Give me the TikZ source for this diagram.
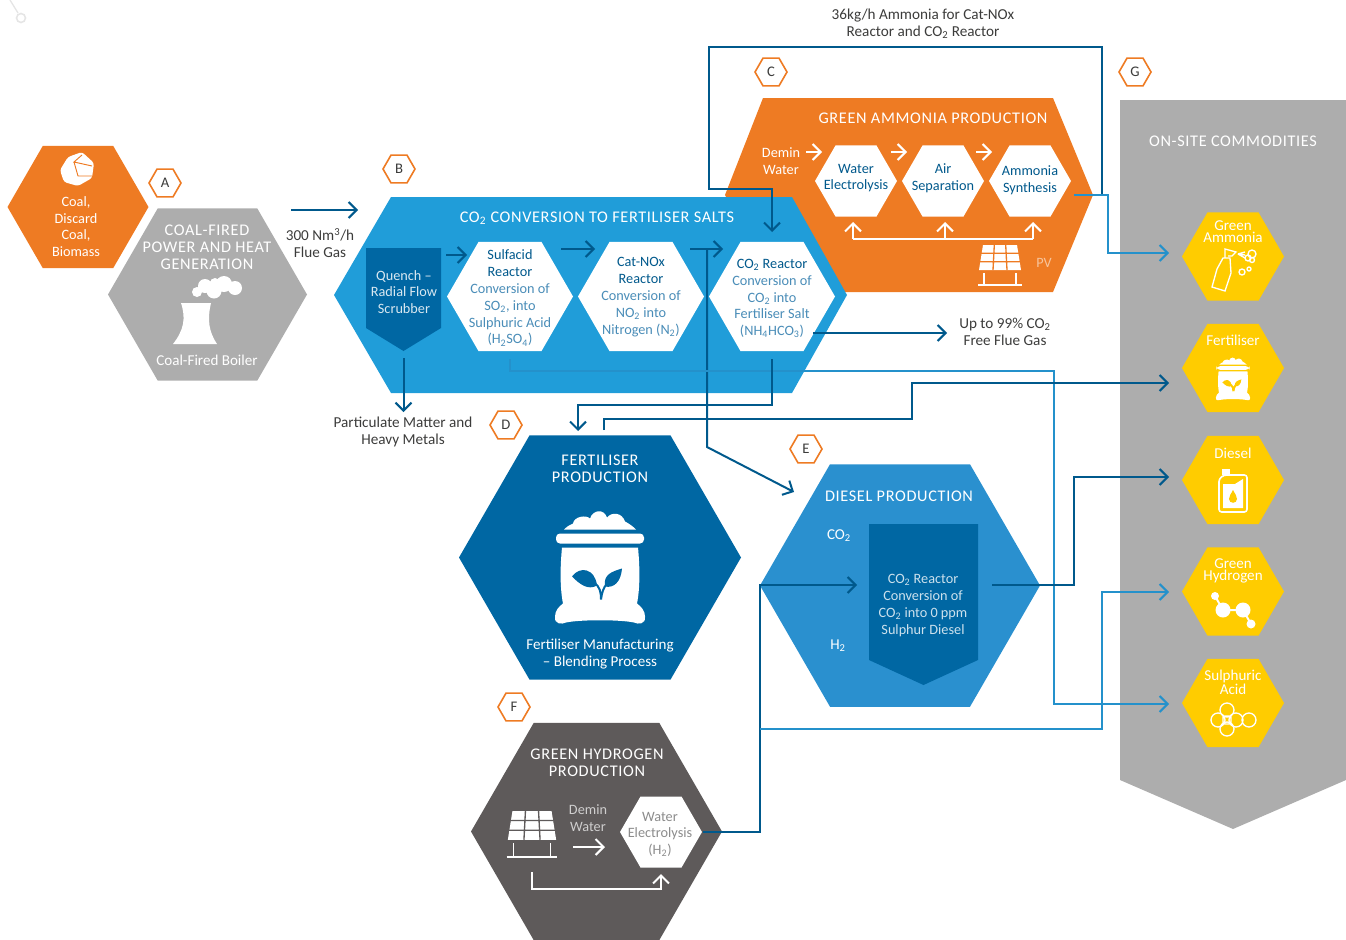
\documentclass[tikz,border=0pt]{standalone}
\usepackage{fontspec}
\setmainfont{Carlito}
\newfontfamily\capsfont[LetterSpace=4]{Carlito}
\usepackage{tikz}
\usetikzlibrary{arrows.meta,shapes.geometric}
\definecolor{orangehex}{HTML}{EE7B23}
\definecolor{greyhex}{HTML}{ADADAD}
\definecolor{bluehex}{HTML}{209DD9}
\definecolor{midhex}{HTML}{2A90CF}
\definecolor{deephex}{HTML}{0067A3}
\definecolor{slatehex}{HTML}{5E5A5A}
\definecolor{yellowhex}{HTML}{FFCC00}
\definecolor{pipedark}{HTML}{00598C}
\definecolor{pipelight}{HTML}{2491CB}
\definecolor{inktext}{HTML}{3C3C3B}
\definecolor{softblue}{HTML}{4A8DB8}
\definecolor{softgrey}{HTML}{8C8C8C}
\tikzset{
  hexa/.style={regular polygon,regular polygon sides=6,inner sep=0pt,outer sep=0pt,minimum size=#1*0.75pt},
  tag/.style={hexa=32,draw=orangehex,fill=white,line width=1.2pt,text=inktext,font=\fontsize{11}{13}\selectfont},
  txt/.style={align=center,inner sep=0pt,font=\fontsize{10.7}{12.6}\selectfont},
  big/.style={txt,font=\fontsize{11.3}{12.75}\selectfont},
  ink/.style={txt,text=inktext,font=\fontsize{11.4}{12.75}\selectfont},
  head/.style={txt,text=white,font=\capsfont\fontsize{12.2}{12.9}\selectfont},
  tiny/.style={txt,text=white,font=\fontsize{11.3}{9}\selectfont},
  pipe/.style={draw=pipedark,line width=1.5pt,-{Straight Barb[length=6pt,width=12pt]}},
  pipeb/.style={draw=pipelight,line width=1.5pt,-{Straight Barb[length=6pt,width=12pt]}},
  wpipe/.style={draw=white,line width=1.5pt,-{Straight Barb[length=6pt,width=12pt]}},
  icon/.style={draw=white,line width=1pt},
  pics/solar/.style={code={
    \fill[white] (-17,0) -- (17,0) -- (21,25) -- (-21,25) -- cycle;
    \draw[#1,line width=1pt] (-5.7,0) -- (-7,25) (5.7,0) -- (7,25) (-19,8.3) -- (19,8.3) (-20,16.7) -- (20,16.7);
    \draw[white,line width=0.9pt] (-16,28) -- (-16,40) (16,28) -- (16,40) (-22,40) -- (22,40);
  }},
  pics/sack/.style={code={
    \fill[white] (-36,-9) .. controls (-32,-13) and (-29,-14) .. (-27,-15) .. controls (-26,-22) and (-14,-24) .. (-10,-20) .. controls (-7,-29) and (4,-30) .. (7,-21) .. controls (12,-27) and (22,-26) .. (25,-17) .. controls (29,-15) and (33,-12) .. (36,-9) -- cycle;
    \fill[white,rounded corners=3pt] (-44,-5) rectangle (44,5);
    \fill[white] (-38,9) -- (38,9) .. controls (40,30) and (40,50) .. (37,65) .. controls (41,68) and (45,72) .. (45,78) .. controls (46,86) and (38,86) .. (34,84) .. controls (20,81) and (-20,81) .. (-34,84) .. controls (-38,86) and (-46,86) .. (-45,78) .. controls (-45,72) and (-41,68) .. (-37,65) .. controls (-40,50) and (-40,30) .. (-38,9) -- cycle;
    \fill[#1] (-28,38) .. controls (-20,27) and (-5,30) .. (-3,47) .. controls (-12,52) and (-20,46) .. (-28,38) -- cycle;
    \fill[#1] (22,30) .. controls (21,43) and (14,50) .. (5,48) .. controls (3,36) and (12,33) .. (22,30) -- cycle;
    \draw[#1,line width=1.5pt] (-6,44) .. controls (0,48) and (1,54) .. (1,61) (7,45) .. controls (3,50) and (2,54) .. (1,61);
  }}
}
\begin{document}
\begin{tikzpicture}[x=0.75pt,y=-0.75pt]
\useasboundingbox (0,0) rectangle (1346,939);
\draw[black!10,line width=1pt] (10,0) -- (18,13);
\draw[black!10,line width=1.2pt] (21,18) circle (4.5);

\fill[greyhex] (1120,100) -- (1346,100) -- (1346,780) -- (1233,829) -- (1120,780) -- cycle;
\fill[orangehex] (763,98) -- (1053,98) -- (1093,195) -- (1053,292) -- (780,292) -- (725,195) -- cycle;
\fill[bluehex] (391,197) -- (792,197) -- (847,295) -- (792,393) -- (391,393) -- (334,295) -- cycle;
\fill[deephex] (366,248) -- (441,248) -- (441,328) -- (403.5,351) -- (366,328) -- cycle;

\node[hexa=141,fill=orangehex] (coal) at (78,207) {};
\node[hexa=199,fill=greyhex] (boiler) at (207.5,294.5) {};
\node[hexa=126,fill=white] (sulfacid) at (510,296.5) {};
\node[hexa=126,fill=white] (catnox) at (641,296.5) {};
\node[hexa=126,fill=white] (co2reac) at (772,296.5) {};
\node[hexa=82,fill=white] (electro) at (856,181) {};
\node[hexa=82,fill=white] (airsep) at (943,181) {};
\node[hexa=82,fill=white] (synth) at (1030,181) {};
\node[hexa=282,fill=deephex] (fert) at (600,557.5) {};
\node[hexa=280,fill=midhex] (diesel) at (900,585.5) {};
\fill[deephex] (869,524) -- (978,524) -- (978,660) -- (923.5,685) -- (869,660) -- cycle;
\node[hexa=251,fill=slatehex] (hydro) at (596.5,831.5) {};
\node[hexa=82,fill=white] (h2cell) at (661,832) {};
\node[hexa=102,fill=yellowhex] (y1) at (1233,256.5) {};
\node[hexa=102,fill=yellowhex] (y2) at (1233,368) {};
\node[hexa=102,fill=yellowhex] (y3) at (1233,480) {};
\node[hexa=102,fill=yellowhex] (y4) at (1233,591.5) {};
\node[hexa=102,fill=yellowhex] (y5) at (1233,703) {};

\node[tag] (A) at (165,183) {A};
\node[tag] (B) at (399,169) {B};
\node[tag] (C) at (771,72) {C};
\node[tag] (D) at (506,425) {D};
\node[tag] (E) at (806,449) {E};
\node[tag] (F) at (514,707) {F};
\node[tag] (G) at (1135,72) {G};

\coordinate (flue1) at (291,210);
\coordinate (flue2) at (358,210);
\coordinate (pm1) at (403.5,358);
\coordinate (pm2) at (403.5,412);
\coordinate (q1) at (446,255);
\coordinate (q2) at (467,255);
\coordinate (s1) at (561,249);
\coordinate (s2) at (595,249);
\coordinate (n1) at (690,249);
\coordinate (n2) at (723,249);
\coordinate (n3) at (707,249);
\coordinate (n4) at (707,447);
\coordinate (n5) at (794,492);
\coordinate (am1) at (1074,195);
\coordinate (am2) at (1101.5,195);
\coordinate (am3) at (709,47);
\coordinate (am4) at (772,189);
\coordinate (am5) at (772,232);
\coordinate (am6) at (1108,195);
\coordinate (am7) at (1169,253);
\coordinate (ff1) at (813,333);
\coordinate (ff2) at (947,333);
\coordinate (sa1) at (510,359);
\coordinate (sa2) at (1054,371);
\coordinate (sa3) at (1169,704);
\coordinate (cf1) at (772,359);
\coordinate (cf2) at (578,404.5);
\coordinate (cf3) at (578,431);
\coordinate (fo1) at (604,430);
\coordinate (fo2) at (912,419);
\coordinate (fo3) at (1169,383);
\coordinate (dl1) at (992,585);
\coordinate (dl2) at (1074,585);
\coordinate (dl3) at (1169,477);
\coordinate (gh1) at (703,832);
\coordinate (gh2) at (760,832);
\coordinate (gh3) at (760,585);
\coordinate (gh4) at (857,585);
\coordinate (gh5) at (760,729);
\coordinate (gh6) at (1102,729);
\coordinate (gh7) at (1169,592);
\coordinate (pv0) at (1033,239);
\coordinate (pv1) at (853,222);
\coordinate (pv2) at (945,222);
\coordinate (pv3) at (1033,222);
\coordinate (w1) at (806,152);
\coordinate (w2) at (822,152);
\coordinate (w3) at (891,152);
\coordinate (w4) at (907,152);
\coordinate (w5) at (976,152);
\coordinate (w6) at (992,152);
\coordinate (fw1) at (573,847);
\coordinate (fw2) at (605,847);
\coordinate (fl1) at (532,872);
\coordinate (fl2) at (661,889);
\coordinate (fl3) at (661,874);

\draw[pipe] (flue1) -- (flue2);
\draw[pipe] (pm1) -- (pm2);
\draw[pipe] (q1) -- (q2);
\draw[pipe] (s1) -- (s2);
\draw[pipe] (n1) -- (n2);
\draw[pipe] (n3) -- (n4) -- (n5);
\draw[pipe] (am2) |- (am3) |- (am4) -- (am5);
\draw[pipeb] (am1) -- (am6) |- (am7);
\draw[pipe] (ff1) -- (ff2);
\draw[pipeb] (sa1) |- (sa2) |- (sa3);
\draw[pipe] (cf1) |- (cf2) -- (cf3);
\draw[pipe] (fo1) |- (fo2) |- (fo3);
\draw[pipe] (dl1) -- (dl2) |- (dl3);
\draw[pipe] (gh1) -- (gh2) -- (gh3) -- (gh4);
\draw[pipeb] (gh5) -- (gh6) |- (gh7);
\draw[wpipe] (w1) -- (w2);
\draw[wpipe] (w3) -- (w4);
\draw[wpipe] (w5) -- (w6);
\draw[wpipe] (pv0 -| pv1) -- (pv1);
\draw[wpipe] (pv0 -| pv2) -- (pv2);
\draw[wpipe] (pv0) -- (pv3);
\draw[white,line width=1.5pt] (pv0 -| pv1) -- (pv0);
\draw[wpipe] (fw1) -- (fw2);
\draw[wpipe] (fl1) |- (fl2) -- (fl3);

\node[txt,text=white] (coaltxt) at (76,226.5) {Coal,\\Discard\\Coal,\\Biomass};
\node[head] (boilertitle) at (207,247) {COAL-FIRED\\POWER AND HEAT\\GENERATION};
\node[big,text=white] (boilertxt) at (207,360) {Coal-Fired Boiler};
\node[ink] (fluetxt) at (320,243) {300 Nm\textsuperscript{3}/h\\Flue Gas};
\node[head] (btitle) at (597,218) {CO\textsubscript{2} CONVERSION TO FERTILISER SALTS};
\node[txt,text=white!85!deephex] (quench) at (404,292) {Quench –\\Radial Flow\\Scrubber};
\node[txt,text=softblue] (sulftxt) at (510,298) {\textcolor{pipedark}{Sulfacid}\\\textcolor{pipedark}{Reactor}\\Conversion of\\SO\textsubscript{2}, into\\Sulphuric Acid\\(H\textsubscript{2}SO\textsubscript{4})};
\node[txt,text=softblue] (noxtxt) at (641,297) {\textcolor{pipedark}{Cat-NOx}\\\textcolor{pipedark}{Reactor}\\Conversion of\\NO\textsubscript{2} into\\Nitrogen (N\textsubscript{2})};
\node[txt,text=softblue] (co2txt) at (772,298.5) {\textcolor{pipedark}{CO\textsubscript{2} Reactor}\\Conversion of\\CO\textsubscript{2} into\\Fertiliser Salt\\(NH\textsubscript{4}HCO\textsubscript{3})};
\node[ink] (pmtxt) at (403,432) {Particulate Matter and\\Heavy Metals};
\node[ink] (toptxt) at (923,24) {36kg/h Ammonia for Cat-NOx\\Reactor and CO\textsubscript{2} Reactor};
\node[ink] (fftxt) at (1005,332) {Up to 99\% CO\textsubscript{2}\\Free Flue Gas};
\node[head] (ctitle) at (933,118) {GREEN AMMONIA PRODUCTION};
\node[txt,text=white] (dw1) at (781,161) {Demin\\Water};
\node[txt,text=pipedark] (wetxt) at (856,178) {Water\\Electrolysis};
\node[txt,text=pipedark] (airtxt) at (943,178) {Air\\Separation};
\node[txt,text=pipedark] (syntxt) at (1030,180) {Ammonia\\Synthesis};
\node[txt,text=orangehex!45!white] (pvtxt) at (1044,263) {PV};
\node[head] (dtitle) at (600,469) {FERTILISER\\PRODUCTION};
\node[big,text=white] (dtxt) at (600,654) {Fertiliser Manufacturing\\– Blending Process};
\node[head] (etitle) at (899,496) {DIESEL PRODUCTION};
\node[big,text=white] (eco2) at (839,536) {CO\textsubscript{2}};
\node[big,text=white] (eh2) at (838,646) {H\textsubscript{2}};
\node[txt,text=white!80!deephex] (etxt) at (923,605.5) {CO\textsubscript{2} Reactor\\Conversion of\\CO\textsubscript{2} into 0 ppm\\Sulphur Diesel};
\node[head] (ftitle) at (597,763) {GREEN HYDROGEN\\PRODUCTION};
\node[txt,text=white!70!slatehex] (dw2) at (588,818) {Demin\\Water};
\node[txt,text=softgrey] (h2txt) at (660,834.5) {Water\\Electrolysis\\(H\textsubscript{2})};
\node[head] (gtitle) at (1233,141) {ON-SITE COMMODITIES};
\node[tiny] (y1txt) at (1233,232) {Green\\Ammonia};
\node[tiny] (y2txt) at (1233,340) {Fertiliser};
\node[tiny] (y3txt) at (1233,453) {Diesel};
\node[tiny] (y4txt) at (1233,571) {Green\\Hydrogen};
\node[tiny] (y5txt) at (1233,682) {Sulphuric\\Acid};

\pic at (1000,245) {solar=orangehex};
\pic[scale=1.15] at (532,811) {solar=slatehex};
\pic at (600,538.5) {sack=deephex};
\pic[scale=0.38] at (1233,368) {sack=yellowhex};

\fill[white,rounded corners=2pt] (82,152) -- (94,163) -- (92,178) -- (78,186) -- (64,182) -- (60,170) -- (68,157) -- cycle;
\draw[orangehex,line width=0.7pt] (82,155) -- (74,162) -- (92,166) (74,162) -- (78,176) -- (92,176);
\fill[white] (181,303) -- (211,303) .. controls (207,320) and (209,332) .. (217,344) -- (173,344) .. controls (184,330) and (186,318) .. (181,303) -- cycle;
\fill[white] (197,292) circle (5) (205,286) circle (7) (214,291) circle (7.5) (224,284) circle (8) (235,288) circle (7) (215,283) circle (5);

\draw[icon] (1223,258) -- (1230,258) -- (1231,273) -- (1225,291) -- (1212,287) -- (1217,269) -- cycle (1225,258) -- (1225,249) -- (1236,252) -- (1232,256) -- (1228,256) (1238,254) -- (1245,252) (1238,254) -- (1245,255) (1238,254) -- (1245,258);
\draw[icon] (1252,254) circle (4) (1248,258) circle (3) (1252,260) circle (2.5) (1242,272) circle (3) (1249,269) circle (2);
\draw[icon,line width=1.2pt,rounded corners=2pt] (1219,479) -- (1224,475) -- (1247,475) -- (1247,512) -- (1219,512) -- cycle;
\fill[white] (1222,469) rectangle (1230,475);
\fill[white] (1223,484) -- (1235,484) -- (1243,479) -- (1243,508) -- (1223,508) -- cycle;
\fill[yellowhex] (1233,490) .. controls (1231,494) and (1229,496) .. (1229,499) .. controls (1229,504) and (1237,504) .. (1237,499) .. controls (1237,496) and (1235,494) .. (1233,490) -- cycle;
\draw[icon,line width=1.5pt] (1215,596) -- (1223,610) -- (1243,610) -- (1251,624);
\fill[white] (1215,596) circle (4) (1223,610) circle (7.5) (1243,610) circle (7.5) (1251,624) circle (4.5);
\draw[icon] (1227,710) circle (7) (1227,729) circle (7) (1218,720) circle (7) (1236,720) circle (7) (1249,720) circle (7) (1223,716) rectangle (1231,724);
\end{tikzpicture}
\end{document}
